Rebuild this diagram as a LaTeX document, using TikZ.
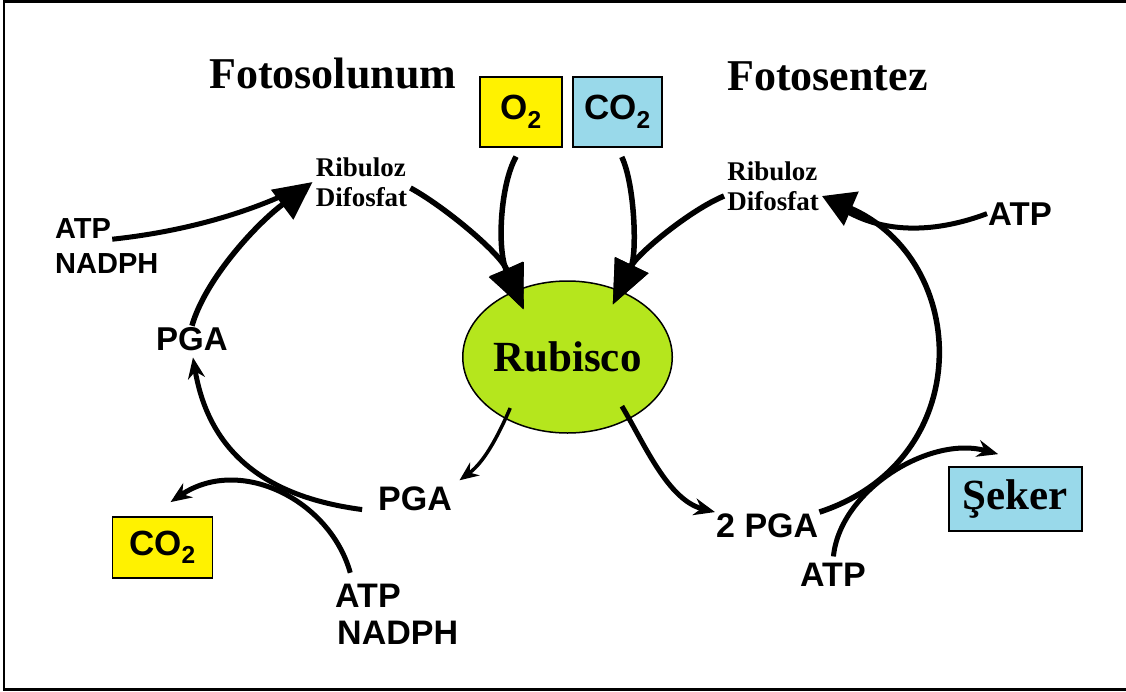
\documentclass[tikz,border=0pt]{standalone}
\usepackage{fontspec}
\setmainfont{Liberation Serif}
\setsansfont{Liberation Sans}
\usepackage{tikz}
\usetikzlibrary{arrows.meta,positioning,shapes.geometric}
\usepackage{xcolor}
\definecolor{gasYellow}{RGB}{255,242,0}
\definecolor{gasBlue}{RGB}{153,217,234}
\definecolor{rubGreen}{RGB}{181,230,29}

\begin{document}
\begin{tikzpicture}[x=1pt, y=-1pt,
  ttl/.style={font=\bfseries\fontsize{44}{50}\selectfont, inner sep=0pt},
  rib/.style={font=\bfseries\fontsize{27}{30}\selectfont, align=left,
              inner sep=3pt},
  lbl/.style={font=\sffamily\bfseries\fontsize{#1}{#1}\selectfont,
              inner sep=1pt},
  gas/.style={rectangle, draw, line width=1.8pt, fill=#1, inner sep=0pt,
              font=\sffamily\bfseries\fontsize{35}{38}\selectfont},
  bigarr/.style={line width=5.5pt, -{Triangle[length=#1,width=36pt]}},
  bigarr/.default=38pt,
  thinarr/.style={line width=5pt, -{Stealth[length=21pt,width=17pt]}},
  feed/.style={line width=5pt}
]
  \useasboundingbox (0,0) rectangle (1126,691);
  \draw[line width=2.5pt] (1126,1.5) -- (4,1.5) -- (4,689.5) -- (1126,689.5);

  % titles and gases
  \node[ttl, anchor=base west] (fsol) at (209,88) {Fotosolunum};
  \node[ttl, anchor=base west] (fsen) at (727,90) {Fotosentez};
  \node[gas=gasYellow, minimum width=82pt, minimum height=70pt]
    (o2) at (521,112) {O\textsubscript{2}};
  \node[gas=gasBlue, minimum width=89pt, minimum height=70pt]
    (co2a) at (617.5,112) {CO\textsubscript{2}};
  \node[ellipse, draw, line width=1.5pt, fill=rubGreen, inner sep=0pt,
        minimum width=201pt, minimum height=152pt,
        font=\bfseries\fontsize{43}{48}\selectfont] (rub) at (567.5,357) {Rubisco};

  \node[rib] (ribL) at (361.5,182) {Ribuloz\\Difosfat};
  \node[rib] (ribR) at (773,186) {Ribuloz\\Difosfat};

  \foreach \nm/\x/\y/\s/\t in {atpL/54/238/29/ATP, nadphL/54/273/29/NADPH,
      pgaL/155/350/33/PGA, pgaM/377/510/34/PGA, atpB/334/607/34/ATP,
      nadphB/336/644/34/NADPH, atpR/987/225/33/ATP, pga2/715/537/34/2 PGA,
      atpR2/799/586/34/ATP}
    \node[lbl=\s, anchor=base west] (\nm) at (\x,\y) {\t};

  \node[gas=gasYellow, minimum width=100pt, minimum height=61pt]
    (co2b) at (162.5,547.5) {CO\textsubscript{2}};
  \node[rectangle, draw, line width=2pt, fill=gasBlue, inner sep=0pt,
        minimum width=133pt, minimum height=64pt,
        font=\bfseries\fontsize{43}{48}\selectfont] (seker) at (1015.5,499) {Şeker};

  % left cycle
  \draw[bigarr] (pgaL.north) .. controls (205,280) and (255,225) .. (ribL.west);
  \draw[feed, shorten >=30pt] (atpL.south east)
    .. controls (180,232) and (240,215) .. (ribL.west);
  \draw[thinarr, shorten <=15pt, shorten >=6pt] (pgaM.south west)
    .. controls (290,500) and (212,470) .. (pgaL.south);
  \draw[thinarr, shorten <=10pt] ([xshift=-15pt]atpB.north)
    .. controls (330,500) and (240,455) .. ([xshift=8pt,yshift=14pt]co2b.north);

  % into rubisco
  \draw[bigarr=44pt, shorten >=-21pt] ([yshift=-6pt]ribL.east)
    .. controls (445,207) and (500,253) .. (rub.128);
  \draw[bigarr=44pt, shorten <=10pt, shorten >=-21pt] (o2.south)
    .. controls (500,185) and (497,250) .. (rub.128);
  \draw[bigarr=44pt, shorten <=10pt, shorten >=-16pt] (co2a.south)
    .. controls (635,185) and (637,254) .. (rub.52);
  \draw[bigarr=44pt, shorten >=-16pt] ([yshift=-10pt]ribR.west)
    .. controls (690,210) and (637,254) .. (rub.52);

  % out of rubisco
  \draw[thinarr, line width=3.5pt, -{Stealth[length=19pt,width=16pt]},
        shorten <=-12pt, shorten >=8pt] (rub.225) to[bend left=15] (pgaM.north east);
  \draw[thinarr, shorten <=-15pt] (rub.315)
    .. controls (645,445) and (668,500) .. (pga2.north west);

  % right cycle
  \draw[bigarr=32pt] (pga2.north east)
    .. controls (978,460) and (970,260) .. ([yshift=-10pt]ribR.east);
  \draw[feed, shorten >=25pt] (atpR.west)
    .. controls (930,235) and (880,232) .. ([yshift=-10pt]ribR.east);
  \draw[thinarr, shorten <=5pt, shorten >=18pt] (atpR2.north)
    .. controls (840,490) and (930,435) .. ([yshift=7pt]seker.north);
\end{tikzpicture}
\end{document}
